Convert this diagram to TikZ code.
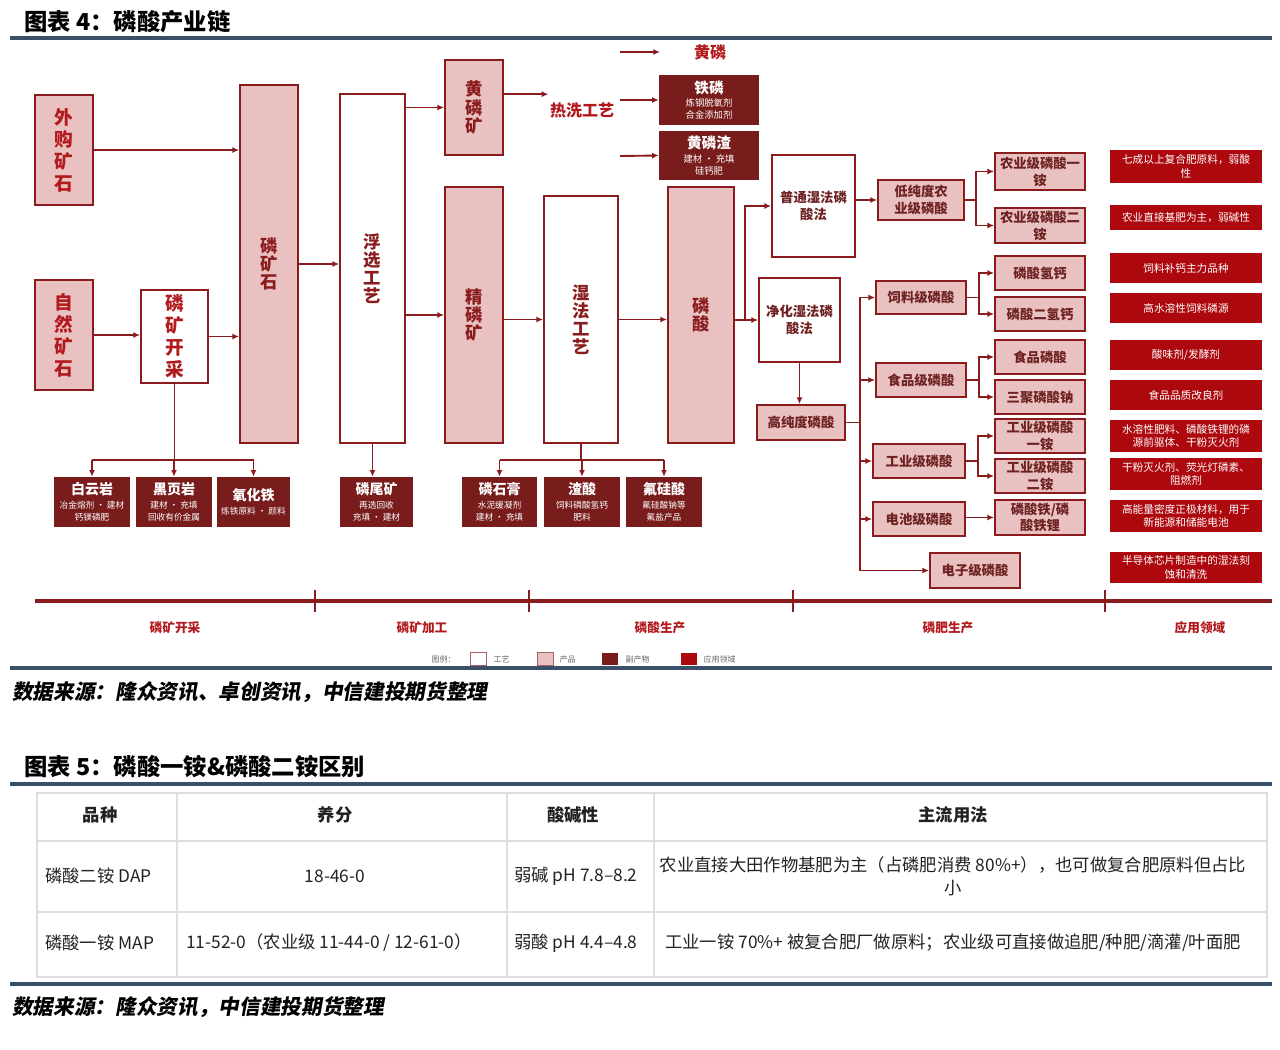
\documentclass[tikz,border=0pt]{standalone}
\usepackage{fontspec}
\setmainfont{Noto Sans CJK SC}
\newfontfamily\srcfont{Noto Sans CJK SC}[FakeSlant=0.18]
\usetikzlibrary{arrows.meta}

\definecolor{deep}{RGB}{138,28,30}
\definecolor{pinkfill}{RGB}{234,193,193}
\definecolor{byp}{RGB}{120,28,28}
\definecolor{appred}{RGB}{172,8,14}
\definecolor{slate}{RGB}{58,80,104}
\definecolor{boxtxt}{RGB}{110,34,34}
\definecolor{hotred}{RGB}{178,26,30}
\definecolor{tblline}{RGB}{222,222,222}
\definecolor{tabtxt}{RGB}{34,34,34}

\newcommand\bt[1]{{\bfseries\fontsize{10.5}{11}\selectfont #1}}

\begin{document}
\begin{tikzpicture}[x=0.75pt, y=-0.75pt,
	bx/.style args={#1/#2/#3/#4}{minimum width={(#3-#1)*0.75pt}, minimum height={(#4-#2)*0.75pt}, at={({(#1+#3)/2},{(#2+#4)/2})}},
	proc/.style={draw=deep, fill=white, line width=1.4pt, inner sep=0pt, align=center, text=boxtxt},
	prod/.style={proc, fill=pinkfill},
	vt/.style={font=\bfseries\fontsize{13}{13.6}\selectfont, text=deep},
	vbig/.style={font=\bfseries\fontsize{14}{16.5}\selectfont, text=hotred},
	rt/.style={font=\bfseries\fontsize{10}{12.6}\selectfont},
	byprod/.style={fill=byp, inner sep=0pt, align=center, text=white, font=\fontsize{6.5}{9}\selectfont},
	app/.style={fill=appred, inner sep=0pt, align=center, text=white, font=\fontsize{8}{10}\selectfont},
	hot/.style={text=hotred, font=\bfseries\fontsize{12}{14}\selectfont, inner sep=1pt},
	flow/.style={draw=deep, line width=1.4pt, -{Latex[length=5pt,width=4.5pt]}},
	seg/.style={draw=deep, line width=1.4pt},
	axis/.style={draw=deep, line width=3pt},
	stage/.style={text=hotred, font=\bfseries\fontsize{9.5}{11}\selectfont},
	lgbox/.style={minimum width=12pt, minimum height=9.5pt, inner sep=0pt, line width=0.6pt},
	lgtext/.style={text=black!60, font=\fontsize{6}{7}\selectfont, anchor=west, inner sep=1pt},
	rule/.style={draw=slate, line width=2.4pt},
	title/.style={anchor=west, font=\bfseries\fontsize{17.5}{19}\selectfont, inner sep=0pt},
	source/.style={anchor=west, font=\srcfont\bfseries\fontsize{15.5}{17}\selectfont, inner sep=0pt},
	tbl/.style={draw=tblline, line width=0.8pt},
	cell/.style={text=tabtxt, font=\fontsize{13}{17}\selectfont, align=center, inner sep=0pt},
	head/.style={cell, font=\bfseries\fontsize{13}{17}\selectfont}]
	\useasboundingbox (0,0) rectangle (1280,1049);

	% figure 4
	\node[title] (t4) at (24,22) {图表 4：磷酸产业链};
	\draw[rule] (10,38) -- (1272,38);

	% ore side
	\node[prod, vbig, bx=35/95/93/205]   (wgks) {外\\购\\矿\\石};
	\node[prod, vbig, bx=35/280/93/390]  (zrks) {自\\然\\矿\\石};
	\node[proc, vbig, bx=141/290/208/383] (kc)  {磷\\矿\\开\\采};
	\node[prod, vt, bx=240/85/298/443]   (lks)  {磷\\矿\\石};
	\node[proc, vt, bx=340/94/405/443]   (fx)   {浮\\选\\工\\艺};
	\node[prod, vt, bx=445/60/503/155]   (hlk)  {黄\\磷\\矿};
	\node[prod, vt, bx=445/187/503/443]  (jlk)  {精\\磷\\矿};
	\node[proc, vt, bx=544/196/618/443]  (sf)   {湿\\法\\工\\艺};
	\node[prod, vt, bx=668/187/734/443]  (ls)   {磷\\酸};

	% yellow phosphorus line
	\node[hot] (rx) at (582,110) {热洗工艺};
	\node[hot] (hl) at (710,52) {黄磷};
	\node[byprod, bx=659/75/759/125] (tl) {{\bfseries\fontsize{11}{12}\selectfont 铁磷}\\[1pt]{\fontsize{7}{9}\selectfont 炼钢脱氧剂}\\{\fontsize{7}{9}\selectfont 合金添加剂}};
	\node[byprod, bx=659/131/759/180] (hlz) {{\bfseries\fontsize{11}{12}\selectfont 黄磷渣}\\[1pt]{\fontsize{7}{9}\selectfont 建材 · 充填}\\{\fontsize{7}{9}\selectfont 硅钙肥}};

	% acid routes
	\node[proc, rt, bx=772/155/855/257]  (pt)  {普通湿法磷\\酸法};
	\node[proc, rt, bx=759/278/840/362]  (jh)  {净化湿法磷\\酸法};
	\node[prod, rt, bx=757/405/845/440]  (gcd) {高纯度磷酸};
	\node[prod, rt, bx=878/180/964/220]  (dcd) {低纯度农\\业级磷酸};
	\node[prod, rt, bx=876/281/966/314]  (sl)  {饲料级磷酸};
	\node[prod, rt, bx=876/363/966/397]  (sp)  {食品级磷酸};
	\node[prod, rt, bx=873/444/965/478]  (gy)  {工业级磷酸};
	\node[prod, rt, bx=873/502/965/536]  (dc)  {电池级磷酸};
	\node[prod, rt, bx=930/553/1020/588] (dz)  {电子级磷酸};

	% fertiliser / salts
	\node[prod, rt, bx=995/153/1085/190] (ny1) {农业级磷酸一\\铵};
	\node[prod, rt, bx=995/208/1085/243] (ny2) {农业级磷酸二\\铵};
	\node[prod, rt, bx=995/256/1085/290] (lq)  {磷酸氢钙};
	\node[prod, rt, bx=995/297/1085/331] (leq) {磷酸二氢钙};
	\node[prod, rt, bx=995/340/1085/374] (spl) {食品磷酸};
	\node[prod, rt, bx=995/380/1085/414] (sj)  {三聚磷酸钠};
	\node[prod, rt, bx=995/419/1085/453] (gy1) {工业级磷酸\\一铵};
	\node[prod, rt, bx=995/459/1085/493] (gy2) {工业级磷酸\\二铵};
	\node[prod, rt, bx=995/500/1085/535] (ltl) {磷酸铁/磷\\酸铁锂};

	% applications
	\node[app, bx=1110/150/1262/183] (a1)  {七成以上复合肥原料，弱酸\\性};
	\node[app, bx=1110/205/1262/230] (a2)  {农业直接基肥为主，弱碱性};
	\node[app, bx=1110/253/1262/283] (a3)  {饲料补钙主力品种};
	\node[app, bx=1110/293/1262/323] (a4)  {高水溶性饲料磷源};
	\node[app, bx=1110/340/1262/370] (a5)  {酸味剂/发酵剂};
	\node[app, bx=1110/380/1262/410] (a6)  {食品品质改良剂};
	\node[app, bx=1110/420/1262/452] (a7)  {水溶性肥料、磷酸铁锂的磷\\源前驱体、干粉灭火剂};
	\node[app, bx=1110/458/1262/490] (a8)  {干粉灭火剂、荧光灯磷素、\\阻燃剂};
	\node[app, bx=1110/500/1262/532] (a9)  {高能量密度正极材料，用于\\新能源和储能电池};
	\node[app, bx=1110/552/1262/583] (a10) {半导体芯片制造中的湿法刻\\蚀和清洗};

	% by-products at the bottom
	\node[byprod, bx=54/477/130/527]  (by1) {\bt{白云岩}\\[1.5pt]冶金熔剂 · 建材\\钙镁磷肥};
	\node[byprod, bx=136/477/212/527] (by2) {\bt{黑页岩}\\[1.5pt]建材 · 充填\\回收有价金属};
	\node[byprod, bx=217/477/290/527] (by3) {\bt{氧化铁}\\[1.5pt]炼铁原料 · 颜料};
	\node[byprod, bx=340/477/413/527] (by4) {\bt{磷尾矿}\\[1.5pt]再选回收\\充填 · 建材};
	\node[byprod, bx=462/477/537/527] (by5) {\bt{磷石膏}\\[1.5pt]水泥缓凝剂\\建材 · 充填};
	\node[byprod, bx=544/477/620/527] (by6) {\bt{渣酸}\\[1.5pt]饲料磷酸氢钙\\肥料};
	\node[byprod, bx=626/477/702/527] (by7) {\bt{氟硅酸}\\[1.5pt]氟硅酸钠等\\氟盐产品};

	% connectors, left part
	\draw[flow] (wgks.east) -- (wgks.east -| lks.west);
	\draw[flow] (zrks.east) -- (zrks.east -| kc.west);
	\draw[flow] (kc.east) -- (kc.east -| lks.west);
	\draw[flow] (lks.east) -- (lks.east -| fx.west);
	\draw[flow] (hlk.west -| fx.east) -- (hlk.west);
	\draw[flow] (jlk.west -| fx.east) -- (jlk.west);
	\coordinate (h1) at ([yshift=10pt]hlk.east);
	\draw[flow] (h1) -- (h1 -| rx.west);
	\coordinate (r0) at (620,52);  \coordinate (r0e) at (660,52);
	\coordinate (r1) at (620,100); \coordinate (r2) at (620,156);
	\draw[flow] (r0) -- (r0e);
	\draw[flow] (r1) -- (tl.west);
	\draw[flow] (r2) -- (hlz.west);
	\draw[flow] (sf.west -| jlk.east) -- (sf.west);
	\draw[flow] (sf.east) -- (sf.east -| ls.west);

	% drops to by-products
	\coordinate (k0) at (0,460);
	\draw[seg] (kc.south) -- (kc.south |- k0);
	\draw[seg] (by1.north |- k0) -- (by3.north |- k0);
	\draw[flow] (by1.north |- k0) -- (by1.north);
	\draw[flow] (by2.north |- k0) -- (by2.north);
	\draw[flow] (by3.north |- k0) -- (by3.north);
	\draw[flow] (fx.south) -- (fx.south |- by4.north);
	\draw[seg] (sf.south) -- (sf.south |- k0);
	\draw[seg] (by5.north |- k0) -- (by7.north |- k0);
	\draw[flow] (by5.north |- k0) -- (by5.north);
	\draw[flow] (by6.north |- k0) -- (by6.north);
	\draw[flow] (by7.north |- k0) -- (by7.north);

	% connectors, acid part
	\coordinate (jv) at (745,0);
	\draw[flow] (jh.west -| ls.east) -- (jh.west);
	\draw[flow] (jh.west -| jv) |- (pt.west);
	\draw[flow] (dcd.west -| pt.east) -- (dcd.west);
	\draw[seg] (dcd.east) -- ++(11,0) coordinate (d0);
	\draw[flow] (d0) |- (ny1.west);
	\draw[flow] (d0) |- (ny2.west);
	\draw[flow] (jh.south) -- (jh.south |- gcd.north);
	\coordinate (gv) at (860,0);
	\draw[seg] (gcd.east) -- (gcd.east -| gv);
	\draw[flow] (gcd.east -| gv) |- (sl.west);
	\draw[flow] (gcd.east -| gv) |- (sp.west);
	\draw[flow] (gcd.east -| gv) |- (gy.west);
	\draw[flow] (gcd.east -| gv) |- (dc.west);
	\draw[flow] (gcd.east -| gv) |- (dz.west);
	\draw[seg] (sl.east) -- ++(12,0) coordinate (s0);
	\draw[flow] (s0) |- (lq.west);
	\draw[flow] (s0) |- (leq.west);
	\draw[seg] (sp.east) -- ++(12,0) coordinate (f0);
	\draw[flow] (f0) |- (spl.west);
	\draw[flow] (f0) |- (sj.west);
	\draw[seg] (gy.east) -- ++(12,0) coordinate (g0);
	\draw[flow] (g0) |- (gy1.west);
	\draw[flow] (g0) |- (gy2.west);
	\draw[flow] (ltl.west -| dc.east) -- (ltl.west);

	% stage axis
	\draw[axis] (35,601) -- (1272,601);
	\foreach \x in {315,529,793,1105}
		\draw[axis, line width=1.5pt] (\x,590) -- (\x,612);
	\foreach \x/\t in {175/磷矿开采, 422/磷矿加工, 660/磷酸生产, 948/磷肥生产, 1200/应用领域}
		\node[stage] (st-\x) at (\x,628) {\t};

	% legend
	\node[lgtext] (lg0) at (430,659) {图例：};
	\node[lgbox, draw=deep!70, fill=white] (lg1) at (478,659) {};
	\node[lgtext] (lgt1) at (492,659) {工艺};
	\node[lgbox, draw=deep!70, fill=pinkfill] (lg2) at (545,659) {};
	\node[lgtext] (lgt2) at (558,659) {产品};
	\node[lgbox, fill=byp] (lg3) at (610,659) {};
	\node[lgtext] (lgt3) at (624,659) {副产物};
	\node[lgbox, fill=appred] (lg4) at (689,659) {};
	\node[lgtext] (lgt4) at (702,659) {应用领域};
	\draw[rule] (10,668) -- (1272,668);
	\node[source] (src4) at (12,692) {数据来源：隆众资讯、卓创资讯，中信建投期货整理};

	% figure 5
	\node[title] (t5) at (24,767) {图表 5：磷酸一铵\&磷酸二铵区别};
	\draw[rule] (10,784) -- (1272,784);
	\draw[tbl] (37,793) rectangle (1267,977);
	\foreach \x in {177,507,654}
		\draw[tbl] (\x,793) -- (\x,977);
	\foreach \y in {841,912}
		\draw[tbl] (37,\y) -- (1267,\y);
	\node[head] (h1c) at (100,815) {品种};
	\node[head] (h2c) at (335,815) {养分};
	\node[head] (h3c) at (573,815) {酸碱性};
	\node[head] (h4c) at (953,815) {主流用法};
	\node[cell, anchor=west] (r1a) at (45,876) {磷酸二铵 DAP};
	\node[cell] (r1b) at (335,876) {18-46-0};
	\node[cell, anchor=west] (r1c) at (514,876) {弱碱 pH 7.8–8.2};
	\node[cell] (r1d) at (953,876) {农业直接大田作物基肥为主（占磷肥消费 80\%+），也可做复合肥原料但占比\\小};
	\node[cell, anchor=west] (r2a) at (45,943) {磷酸一铵 MAP};
	\node[cell, anchor=west] (r2b) at (186,943) {11-52-0（农业级 11-44-0 / 12-61-0）};
	\node[cell, anchor=west] (r2c) at (514,943) {弱酸 pH 4.4–4.8};
	\node[cell] (r2d) at (953,943) {工业一铵 70\%+ 被复合肥厂做原料；农业级可直接做追肥/种肥/滴灌/叶面肥};
	\draw[rule] (10,984) -- (1272,984);
	\node[source] (src5) at (12,1007) {数据来源：隆众资讯，中信建投期货整理};
\end{tikzpicture}
\end{document}
